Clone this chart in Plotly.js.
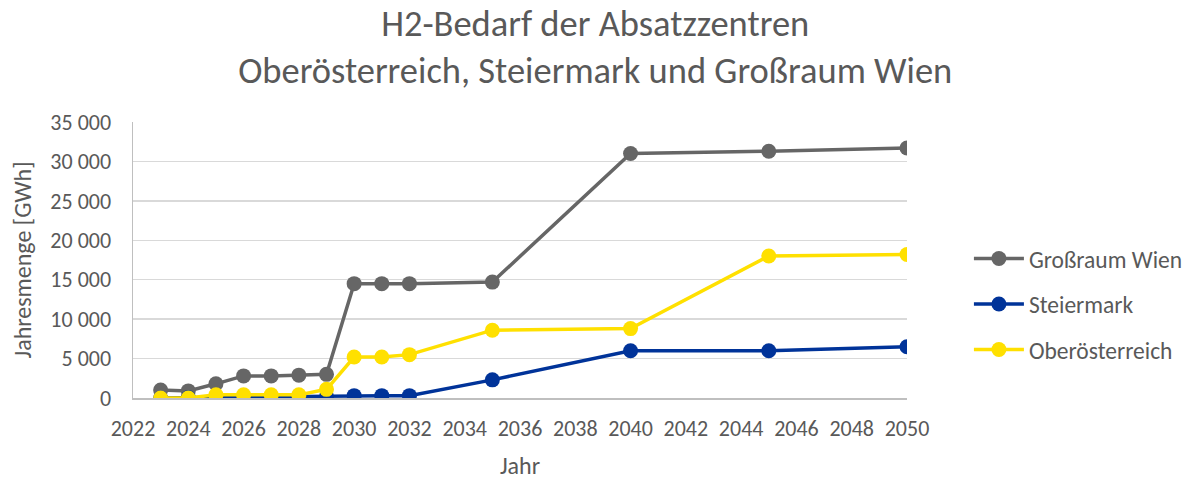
<!DOCTYPE html>
<html><head><meta charset="utf-8">
<script src="https://cdn.plot.ly/plotly-3.0.1.min.js"></script>
<style>body{margin:0;background:#fff}#chart{width:1200px;height:480px}</style>
</head><body><div id="chart"></div>
<script>
const years = [2023, 2024, 2025, 2026, 2027, 2028, 2029, 2030, 2031, 2032, 2035, 2040, 2045, 2050];
const wien = [1000, 900, 1800, 2800, 2800, 2900, 3000, 14500, 14500, 14500, 14700, 31000, 31300, 31700];
const steiermark = [0, 50, 100, 150, 150, 200, 200, 300, 300, 300, 2300, 6000, 6000, 6500];
const ooe = [0, 0, 400, 400, 400, 400, 1100, 5200, 5200, 5500, 8600, 8800, 18000, 18200];
const seriesNames = ["Großraum Wien", "Steiermark", "Oberösterreich"];
const colors = ["#666666", "#003399", "#FFE000"];
const font = "Calibri, Carlito, 'Open Sans', sans-serif";
const vals = [wien, steiermark, ooe];
const traces = vals.map((v, i) => ({
  x: years, y: v, name: seriesNames[i], type: "scatter", mode: "lines+markers",
  legendgroup: "g" + i,
  line: {color: colors[i], width: 3.5}, marker: {color: colors[i], size: 15}
}));
const layout = {
  width: 1200, height: 480,
  paper_bgcolor: "#fff", plot_bgcolor: "#fff",
  separators: ", ",
  margin: {l: 133, r: 290, t: 122, b: 82},
  title: {text: "H2-Bedarf der Absatzzentren<br>Oberösterreich, Steiermark und Großraum Wien",
    font: {family: font, size: 36.5, color: "#595959"}, x: 0.496, xanchor: "center",
    yref: "container", y: 0.926, yanchor: "middle"},
  font: {family: font, color: "#595959"},
  xaxis: {range: [2022, 2050], dtick: 2, tick0: 2022, showgrid: false, zeroline: false,
    showline: true, linecolor: "#bfbfbf", linewidth: 1.5, ticks: "", ticklabelstandoff: 10,
    tickfont: {size: 22, color: "#595959"},
    title: {text: "Jahr", font: {size: 24, color: "#595959"}, standoff: 16}},
  yaxis: {range: [0, 35000], dtick: 5000, tickformat: ",d", showgrid: true, gridcolor: "#d9d9d9", gridwidth: 1.5,
    zeroline: false, showline: true, linecolor: "#bfbfbf", linewidth: 1.5, ticks: "", ticklabelstandoff: 16,
    tickfont: {size: 22, color: "#595959"},
    title: {text: "Jahresmenge [GWh]", font: {size: 24, color: "#595959"}, standoff: 12}},
  legend: {x: 1.08, xanchor: "left", y: 0.34, yanchor: "middle", font: {size: 23.5, color: "#595959"},
    tracegroupgap: 12, traceorder: "grouped", itemwidth: 50},
  showlegend: true
};
Plotly.newPlot("chart", traces, layout, {displayModeBar: false, staticPlot: true});
</script></body></html>
